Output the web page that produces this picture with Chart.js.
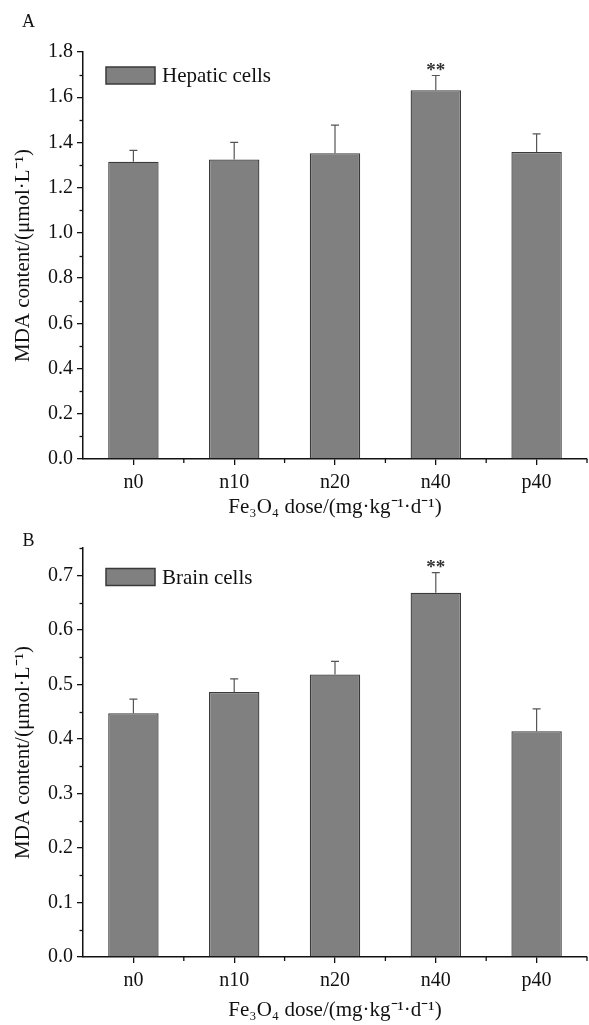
<!DOCTYPE html>
<html>
<head>
<meta charset="utf-8">
<script src="https://cdn.jsdelivr.net/npm/chart.js@4.4.1/dist/chart.umd.min.js"></script>
<style>
html, body { margin: 0; padding: 0; background: #fff; }
#wrap { position: relative; width: 589px; height: 1025px; }
.panel { position: absolute; left: 0; width: 589px; }
</style>
</head>
<body>
<div id="wrap">
  <div class="panel" style="top:0;height:530px"><canvas id="chartA"></canvas></div>
  <div class="panel" style="top:530px;height:495px"><canvas id="chartB"></canvas></div>
</div>
<script>
const categories = ['n0', 'n10', 'n20', 'n40', 'p40'];

const hepaticValues = [1.315, 1.325, 1.352, 1.631, 1.358];
const hepaticErrors = [0.050, 0.075, 0.125, 0.065, 0.080];
const hepaticMarks = ['', '', '', '**', ''];

const brainValues = [0.447, 0.486, 0.518, 0.668, 0.414];
const brainErrors = [0.026, 0.024, 0.024, 0.037, 0.041];
const brainMarks = ['', '', '', '**', ''];

const hepaticAxis = { max: 1.8, step: 0.2, minor: 0.1 };
const brainAxis = { max: 0.75, step: 0.1, minor: 0.05 };

const FONT = '"Liberation Serif", "Times New Roman", serif';
const BAR = '#808080';
const EDGE = '#3a3a3a';
const INK = '#111';

// error bars, stars, minor ticks, legend and panel letter
const extras = {
    id: 'extras',
    afterDatasetsDraw(chart, args, opts) {
        const ctx = chart.ctx;
        const meta = chart.getDatasetMeta(0);
        const ys = chart.scales.y;
        ctx.save();
        ctx.strokeStyle = '#555';
        ctx.lineWidth = 1.2;
        meta.data.forEach((bar, i) => {
            const top = ys.getPixelForValue(opts.values[i] + opts.errors[i]);
            ctx.beginPath();
            ctx.moveTo(bar.x, bar.y);
            ctx.lineTo(bar.x, top);
            ctx.moveTo(bar.x - 4, top);
            ctx.lineTo(bar.x + 4, top);
            ctx.stroke();
            if (opts.marks[i]) {
                ctx.fillStyle = '#333';
                ctx.font = 'bold 19px ' + FONT;
                ctx.textAlign = 'center';
                ctx.textBaseline = 'middle';
                ctx.fillText(opts.marks[i], bar.x, top - 4);
            }
        });
        ctx.restore();
    },
    afterDraw(chart, args, opts) {
        const ctx = chart.ctx;
        const area = chart.chartArea;
        const ys = chart.scales.y;
        ctx.save();
        ctx.strokeStyle = INK;
        ctx.lineWidth = 1.3;
        // minor y ticks
        const n = Math.round(opts.axis.max / opts.axis.minor);
        for (let k = 1; k <= n; k++) {
            const v = k * opts.axis.minor;
            const r = v / opts.axis.step;
            if (Math.abs(r - Math.round(r)) < 1e-6) continue;
            const py = Math.round(ys.getPixelForValue(v)) + 0.5;
            ctx.beginPath();
            ctx.moveTo(area.left - 3.5, py);
            ctx.lineTo(area.left, py);
            ctx.stroke();
        }
        // minor x ticks at category boundaries
        const nc = categories.length;
        for (let k = 1; k <= nc; k++) {
            const px = area.left + k * (area.right - area.left) / nc;
            ctx.beginPath();
            ctx.moveTo(px, area.bottom);
            ctx.lineTo(px, area.bottom + 4);
            ctx.stroke();
        }
        // legend
        const lx = 106, ly = area.top + opts.legendOffset;
        ctx.fillStyle = BAR;
        ctx.strokeStyle = EDGE;
        ctx.lineWidth = 1.5;
        ctx.fillRect(lx, ly - 8.5, 49, 17);
        ctx.strokeRect(lx, ly - 8.5, 49, 17);
        ctx.fillStyle = INK;
        ctx.font = '21px ' + FONT;
        ctx.textAlign = 'left';
        ctx.textBaseline = 'middle';
        ctx.fillText(chart.data.datasets[0].label, 162, ly + 1);
        // panel letter
        ctx.font = '18px ' + FONT;
        ctx.textAlign = 'center';
        ctx.fillText(opts.letter, 28.5, opts.letterY);
        ctx.restore();
    }
};

function makeChart(id, label, values, errors, marks, axis, pad, letter, letterY, legendOffset) {
    const ctx = document.getElementById(id).getContext('2d');
    return new Chart(ctx, {
        type: 'bar',
        data: {
            labels: categories,
            datasets: [{
                label: label,
                data: values,
                backgroundColor: BAR,
                borderColor: EDGE,
                borderWidth: 1.3,
                barPercentage: 0.5,
                categoryPercentage: 1.0
            }]
        },
        options: {
            responsive: true,
            maintainAspectRatio: false,
            animation: false,
            layout: { padding: { top: pad.top, right: 2, bottom: 0, left: 0 } },
            plugins: {
                legend: { display: false },
                tooltip: { enabled: false },
                extras: {
                    values: values, errors: errors, marks: marks, axis: axis,
                    letter: letter, letterY: letterY, legendOffset: legendOffset
                }
            },
            scales: {
                x: {
                    offset: true,
                    afterFit: s => { s.height = pad.xHeight; },
                    grid: { display: true, drawOnChartArea: false, offset: false, tickLength: 6, color: INK, lineWidth: 1.3 },
                    border: { display: true, color: INK, width: 1.5 },
                    ticks: { color: INK, padding: 6, font: { family: FONT, size: 20 } },
                    title: {
                        display: true,
                        text: 'Fe\u2083O\u2084 dose/(mg\u00b7kg\u207b\u00b9\u00b7d\u207b\u00b9)',
                        color: INK,
                        font: { family: FONT, size: 21, lineHeight: 1 },
                        padding: { top: 0, bottom: pad.titleBottom }
                    }
                },
                y: {
                    min: 0,
                    max: axis.max,
                    afterFit: s => { s.width = 83; },
                    afterBuildTicks: s => {
                        s.ticks = s.ticks.filter(t => {
                            const r = t.value / axis.step;
                            return Math.abs(r - Math.round(r)) < 1e-6;
                        });
                    },
                    grid: { display: true, drawOnChartArea: false, tickLength: 6, color: INK, lineWidth: 1.3 },
                    border: { display: true, color: INK, width: 1.5 },
                    ticks: {
                        stepSize: axis.step,
                        color: INK,
                        padding: 4,
                        font: { family: FONT, size: 20 },
                        callback: v => Number(v).toFixed(1)
                    },
                    title: {
                        display: true,
                        text: 'MDA content/(\u03bcmol\u00b7L\u207b\u00b9)',
                        color: INK,
                        font: { family: FONT, size: 21, lineHeight: 1 },
                        padding: { top: 13, bottom: 0 }
                    }
                }
            }
        },
        plugins: [extras]
    });
}

makeChart('chartA', 'Hepatic cells', hepaticValues, hepaticErrors, hepaticMarks, hepaticAxis,
    { top: 52, xHeight: 71, titleBottom: 12.5 }, 'A', 22, 23.5);
makeChart('chartB', 'Brain cells', brainValues, brainErrors, brainMarks, brainAxis,
    { top: 18, xHeight: 68, titleBottom: 4 }, 'B', 11, 29);
</script>
</body>
</html>
